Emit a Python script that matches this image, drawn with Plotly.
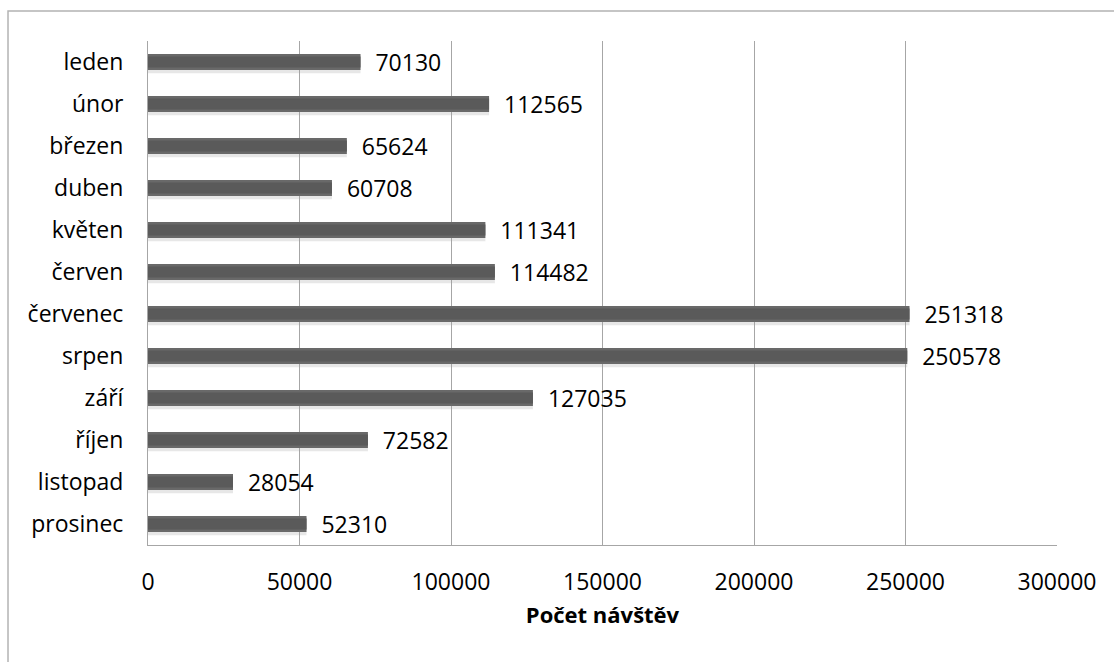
import plotly.graph_objects as go

# Monthly visit counts
months = ["leden", "únor", "březen", "duben", "květen", "červen",
          "červenec", "srpen", "září", "říjen", "listopad", "prosinec"]
visits = [70130, 112565, 65624, 60708, 111341, 114482,
          251318, 250578, 127035, 72582, 28054, 52310]
x_ticks = [0, 50000, 100000, 150000, 200000, 250000, 300000]
x_title = "Počet návštěv"

FONT = "Open Sans, Carlito, Calibri, sans-serif"
FS = 23

fig = go.Figure()

# soft drop shadow under each bar
fig.add_trace(go.Bar(
    y=months, x=visits, orientation="h",
    marker=dict(color="rgba(160,160,160,0.25)", line=dict(width=0)),
    width=0.44, offset=-0.17, hoverinfo="skip", showlegend=False,
))
# main bar body
fig.add_trace(go.Bar(
    y=months, x=visits, orientation="h",
    marker=dict(color="#696969", line=dict(width=0)),
    width=0.38, offset=-0.19,
    text=visits, texttemplate="  %{x:d}", textposition="outside",
    constraintext="none",
    textfont=dict(family=FONT, size=FS, color="#000000"),
    cliponaxis=False, showlegend=False,
))
# darker core for a rounded look
fig.add_trace(go.Bar(
    y=months, x=visits, orientation="h",
    marker=dict(color="#5a5a5a", line=dict(width=0)),
    width=0.26, offset=-0.13, hoverinfo="skip", showlegend=False,
))

fig.update_layout(
    width=1114, height=662,
    margin=dict(l=148, r=57, t=41, b=117),
    paper_bgcolor="white", plot_bgcolor="white",
    barmode="overlay",
    font=dict(family=FONT, size=FS, color="#000000"),
    xaxis=dict(
        range=[0, 300000], tickvals=x_ticks, ticktext=[str(v) for v in x_ticks],
        showgrid=True, gridcolor="#a6a6a6", gridwidth=1,
        showline=True, linecolor="#a6a6a6", linewidth=1,
        zeroline=False, ticks="", ticklabelstandoff=16,
        tickfont=dict(family=FONT, size=FS),
        title=dict(text="<b>" + x_title + "</b>", standoff=12,
                   font=dict(family=FONT, size=FS - 1)),
    ),
    yaxis=dict(
        categoryorder="array", categoryarray=months, autorange="reversed",
        showgrid=False, showline=True, linecolor="#a6a6a6", linewidth=1,
        ticks="", ticklabelstandoff=19,
        tickfont=dict(family=FONT, size=FS),
    ),
    shapes=[
        dict(type="rect", xref="paper", yref="paper",
             x0=-0.154, x1=1.6, y0=-0.5, y1=1.0595,
             line=dict(color="#b3b3b3", width=1.5), fillcolor="rgba(0,0,0,0)",
             layer="below"),
    ],
)

fig.write_html("out.html")
